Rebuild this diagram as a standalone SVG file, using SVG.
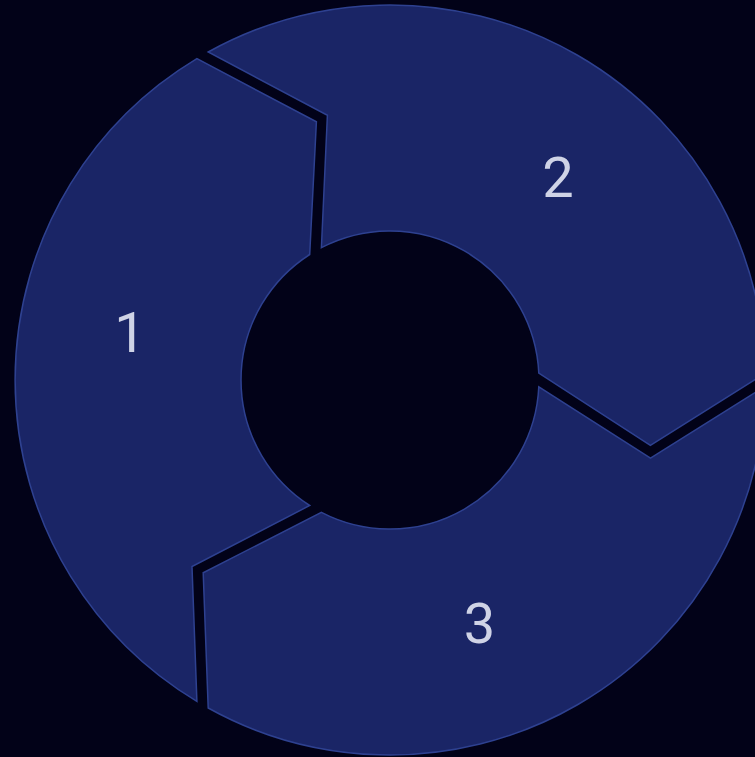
<svg xmlns="http://www.w3.org/2000/svg" width="755" height="757" viewBox="0 0 755 757">
<style>
.seg{fill:#1a2566;stroke:#2e4190;stroke-width:1.5;stroke-linejoin:miter}
.lbl{font-family:Roboto,"Liberation Sans",sans-serif;font-size:56px;fill:#cfd3e6;text-anchor:middle}
</style>
<rect width="755" height="757" fill="#020218"/>
<g id="segment-1">
<path class="seg" d="M196.9,701.4 A375,375 0 0 1 196.9,58.6 L316.4,121.8 L309.7,254.5 A149,149 0 0 0 309.7,505.5 L192.0,566.5 Z"/>
<text class="lbl" x="130" y="352">1</text>
</g>
<g id="segment-2">
<path class="seg" d="M208.2,52.0 A375,375 0 0 1 764.9,373.5 L650.4,445.4 L538.8,373.2 A149,149 0 0 0 321.4,247.7 L327.4,115.3 Z"/>
<text class="lbl" x="558" y="197">2</text>
</g>
<g id="segment-3">
<path class="seg" d="M764.9,386.5 A375,375 0 0 1 208.2,708.0 L203.2,572.8 L321.4,512.3 A149,149 0 0 0 538.8,386.8 L650.5,458.2 Z"/>
<text class="lbl" x="479.5" y="643">3</text>
</g>
<g id="connectors"/>
</svg>
